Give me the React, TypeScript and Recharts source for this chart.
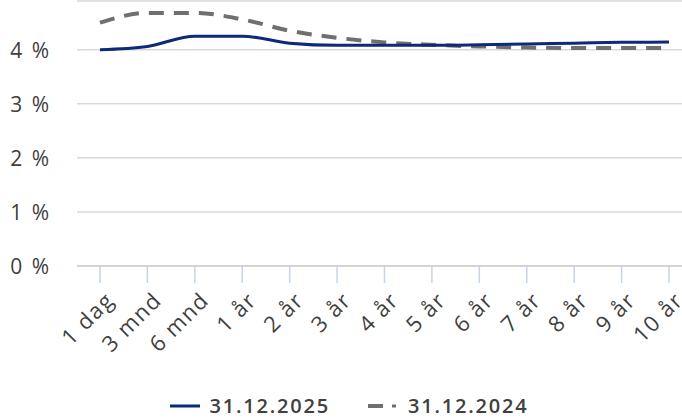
import { LineChart, Line, XAxis, YAxis, CartesianGrid } from 'recharts';

const categories = ['1 dag', '3 mnd', '6 mnd', '1 år', '2 år', '3 år', '4 år', '5 år', '6 år', '7 år', '8 år', '9 år', '10 år'];
const curve2025 = [4.0, 4.06, 4.25, 4.25, 4.12, 4.08, 4.08, 4.08, 4.09, 4.105, 4.12, 4.135, 4.14];
const curve2024 = [4.5, 4.68, 4.68, 4.56, 4.35, 4.22, 4.135, 4.09, 4.06, 4.04, 4.03, 4.03, 4.03];
const yTicks = [0, 1, 2, 3, 4];

const FONT = '"Open Sans", "Noto Sans", sans-serif';
const NAVY = '#0b2a7c';
const GREY = '#6f6f6f';

const data = categories.map((name, i) => ({
  name,
  y2025: curve2025[i],
  y2024: curve2024[i],
}));

const XTick = ({ x, y, payload }: any) => (
  <text
    x={x + 2}
    y={y + 3}
    transform={`rotate(-45, ${x + 2}, ${y + 3})`}
    textAnchor="end"
    dominantBaseline="hanging"
    fontSize={22}
    fill="#404040"
    fontFamily={FONT}
    style={{ letterSpacing: '1.5px' }}
  >
    {payload.value}
  </text>
);

const YTick = ({ x, y, payload }: any) => (
  <text
    x={x}
    y={y}
    textAnchor="end"
    dominantBaseline="central"
    fontSize={21}
    fill="#404040"
    fontFamily={FONT}
    style={{ letterSpacing: '2px' }}
  >
    {`${payload.value} %`}
  </text>
);

const LegendRow = () => (
  <div
    style={{
      position: 'absolute', left: 8, top: 396, width: 682, height: 20, display: 'flex',
      justifyContent: 'center', alignItems: 'center', fontFamily: FONT,
      fontSize: 20, lineHeight: '20px', color: '#404040', fontWeight: 600, letterSpacing: '1.8px',
    }}
  >
    <svg width={30} height={6} style={{ marginRight: 10 }}>
      <line x1={0} y1={3} x2={30} y2={3} stroke={NAVY} strokeWidth={3} />
    </svg>
    <span>31.12.2025</span>
    <svg width={30} height={6} style={{ marginLeft: 38, marginRight: 10 }}>
      <line x1={0} y1={3} x2={15} y2={3} stroke={GREY} strokeWidth={4} />
      <line x1={24} y1={3} x2={28} y2={3} stroke={GREY} strokeWidth={3} />
    </svg>
    <span>31.12.2024</span>
  </div>
);

export default function App() {
  return (
    <div style={{ position: 'absolute', left: 0, top: 0, width: 682, height: 418, background: '#fff', overflow: 'hidden' }}>
      <LineChart width={682} height={380} data={data} margin={{ top: 1, right: 0, left: 0, bottom: 0 }}>
        <CartesianGrid vertical={false} stroke="#d9d9d9" strokeWidth={1.5} />
        <XAxis
          dataKey="name"
          padding={{ left: 23, right: 13 }}
          height={114}
          interval={0}
          axisLine={{ stroke: '#cfcfcf', strokeWidth: 1.5 }}
          tickLine={{ stroke: '#c5d4ea', strokeWidth: 1.5 }}
          tickSize={17}
          tick={<XTick />}
        />
        <YAxis
          domain={[0, 4.9]}
          ticks={yTicks}
          width={77}
          axisLine={false}
          tickLine={false}
          tickSize={0}
          tickMargin={26}
          tick={<YTick />}
        />
        <Line
          type="monotone"
          dataKey="y2024"
          stroke={GREY}
          strokeWidth={4}
          strokeDasharray="15 10"
          dot={false}
          isAnimationActive={false}
        />
        <Line
          type="monotone"
          dataKey="y2025"
          stroke={NAVY}
          strokeWidth={3}
          dot={false}
          isAnimationActive={false}
        />
      </LineChart>
      <LegendRow />
    </div>
  );
}
